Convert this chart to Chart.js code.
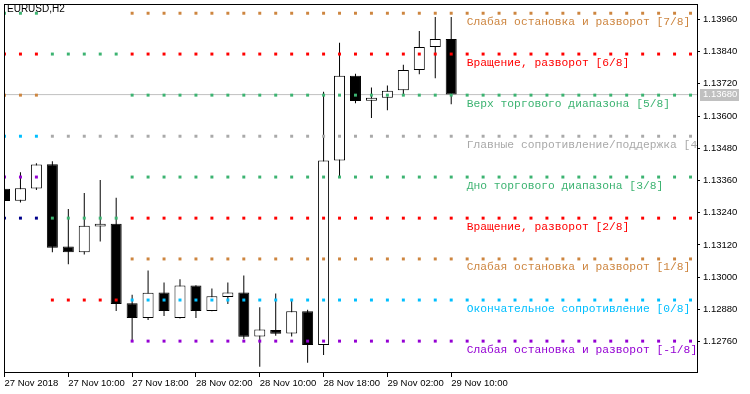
<!DOCTYPE html>
<html>
<head>
<meta charset="utf-8">
<script src="https://cdn.jsdelivr.net/npm/chart.js@4.4.0/dist/chart.umd.min.js"></script>
<style>
html, body { margin: 0; padding: 0; background: #fff; }
canvas { display: block; }
</style>
</head>
<body>
<canvas id="chart" width="750" height="394"></canvas>
<script>
// EURUSD H2 candles, bar 0 = 27 Nov 02:00
const opens  = [1.13329, 1.13285, 1.13330, 1.13421, 1.13114, 1.13093, 1.13189, 1.13199, 1.12903, 1.12848,
                1.12943, 1.12848, 1.12969, 1.12874, 1.12926, 1.12943, 1.12779, 1.12803, 1.12790, 1.12873,
                1.12748, 1.13435, 1.13750, 1.13657, 1.13668, 1.13696, 1.13772, 1.13857, 1.13887];
const highs  = [1.13336, 1.13391, 1.13424, 1.13432, 1.13254, 1.13314, 1.13362, 1.13296, 1.12935, 1.13025,
                1.12980, 1.12992, 1.12970, 1.12958, 1.12980, 1.13006, 1.12888, 1.12939, 1.12911, 1.12879,
                1.13691, 1.13873, 1.13758, 1.13706, 1.13714, 1.13791, 1.13917, 1.13969, 1.13969];
const lows   = [1.13277, 1.13278, 1.13325, 1.13093, 1.13048, 1.13085, 1.13133, 1.12874, 1.12763, 1.12841,
                1.12856, 1.12846, 1.12848, 1.12873, 1.12900, 1.12769, 1.12667, 1.12782, 1.12779, 1.12681,
                1.12710, 1.13370, 1.13648, 1.13593, 1.13622, 1.13681, 1.13756, 1.13741, 1.13644];
const closes = [1.13284, 1.13331, 1.13420, 1.13110, 1.13093, 1.13192, 1.13199, 1.12900, 1.12848, 1.12942,
                1.12874, 1.12969, 1.12874, 1.12929, 1.12943, 1.12778, 1.12805, 1.12789, 1.12873, 1.12748,
                1.13435, 1.13750, 1.13656, 1.13668, 1.13694, 1.13772, 1.13857, 1.13887, 1.13680];

const timeTickIdx = [0, 4, 8, 12, 16, 20, 24, 28];
const timeTickLabels = ['27 Nov 2018', '27 Nov 10:00', '27 Nov 18:00', '28 Nov 02:00',
                        '28 Nov 10:00', '28 Nov 18:00', '29 Nov 02:00', '29 Nov 10:00'];
const priceTicks = [1.12760, 1.12880, 1.13000, 1.13120, 1.13240, 1.13360,
                    1.13480, 1.13600, 1.13720, 1.13840, 1.13960];
const bid = 1.13680;

// current Murrey octave, -1/8 .. 7/8
const murreyLevels = [1.12762, 1.12915, 1.13068, 1.13220, 1.13373, 1.13525, 1.13678, 1.13831, 1.13983];
const murreyColors = ['#9400D3', '#00BFFF', '#CD853F', '#FF0000', '#3CB371', '#A9A9A9', '#3CB371', '#FF0000', '#CD853F'];
const murreyNames = [
  'Слабая остановка и разворот [-1/8]',
  'Окончательное сопротивление [0/8]',
  'Слабая остановка и разворот [1/8]',
  'Вращение, разворот [2/8]',
  'Дно торгового диапазона [3/8]',
  'Главные сопротивление/поддержка [4/8]',
  'Верх торгового диапазона [5/8]',
  'Вращение, разворот [6/8]',
  'Слабая остановка и разворот [7/8]'
];
// older octaves still drawn on the first bars
const oldLevelsA = [1.13220, 1.13373, 1.13525, 1.13678, 1.13831, 1.13983];
const oldColorsA = ['#00008B', '#9400D3', '#00BFFF', '#CD853F', '#FF0000', '#3CB371'];
const oldLevelsB = [1.12915, 1.13220, 1.13525, 1.13831];
const oldColorsB = ['#FF0000', '#3CB371', '#A9A9A9', '#3CB371'];

const segA = [0, 2], segB = [3, 7], segC = [8, 43];
const captionIdx = 29;

Chart.defaults.font.family = '"Liberation Sans", Arial, sans-serif';
Chart.defaults.font.size = 9.5;
Chart.defaults.color = '#000';

function dots(level, color, seg) {
  const pts = [];
  for (let i = seg[0]; i <= seg[1]; i++) pts.push({ x: i, y: level });
  return {
    type: 'scatter', data: pts, order: 0,
    pointStyle: 'rect', pointRadius: 2.1, pointBorderWidth: 0,
    backgroundColor: color, borderColor: color
  };
}

const datasets = [];
murreyLevels.forEach((v, i) => datasets.push(dots(v, murreyColors[i], segC)));
oldLevelsA.forEach((v, i) => datasets.push(dots(v, oldColorsA[i], segA)));
oldLevelsB.forEach((v, i) => datasets.push(dots(v, oldColorsB[i], segB)));

// candle bodies
datasets.push({
  type: 'bar', order: 1, grouped: false,
  data: opens.map((o, i) => ({ x: i, y: [o, closes[i]] })),
  backgroundColor: opens.map((o, i) => closes[i] >= o ? '#fff' : '#000'),
  borderColor: '#000', borderWidth: 1, borderSkipped: false,
  barThickness: 11, inflateAmount: 0
});
// wicks
datasets.push({
  type: 'bar', order: 2, grouped: false,
  data: lows.map((l, i) => ({ x: i, y: [l, highs[i]] })),
  backgroundColor: '#000', borderWidth: 0,
  barThickness: 1, inflateAmount: 0
});
// bid line
datasets.push({
  type: 'line', order: 3,
  data: [{ x: -1, y: bid }, { x: 50, y: bid }],
  borderColor: '#C0C0C0', borderWidth: 1, pointRadius: 0
});

const overlay = {
  id: 'overlay',
  afterDraw(chart) {
    const { ctx, chartArea: a, scales: { x, y } } = chart;
    ctx.save();
    ctx.beginPath();
    ctx.rect(a.left, a.top, a.right - a.left, a.bottom - a.top);
    ctx.clip();
    ctx.font = '11.3px "Liberation Mono", "Courier New", monospace';
    ctx.textAlign = 'left';
    ctx.textBaseline = 'middle';
    murreyLevels.forEach((v, i) => {
      ctx.fillStyle = murreyColors[i];
      ctx.fillText(murreyNames[i], x.getPixelForValue(captionIdx) - 0.5, y.getPixelForValue(v) + 8.5);
    });
    ctx.restore();

    ctx.save();
    ctx.setLineDash([]);
    ctx.strokeStyle = '#000';
    ctx.lineWidth = 1;
    ctx.strokeRect(a.left + 0.5, a.top + 0.5, a.right - a.left, a.bottom - a.top);
    ctx.font = '10px "Liberation Sans", Arial, sans-serif';
    ctx.fillStyle = '#000';
    ctx.textAlign = 'left';
    ctx.textBaseline = 'top';
    ctx.fillText('EURUSD,H2', 7, 4);
    // bid label on price axis
    const yb = y.getPixelForValue(bid);
    ctx.fillStyle = '#C0C0C0';
    ctx.fillRect(a.right + 3, Math.round(yb) - 6, 39, 12);
    ctx.fillStyle = '#fff';
    ctx.font = '9.5px "Liberation Sans", Arial, sans-serif';
    ctx.textBaseline = 'middle';
    ctx.fillText(bid.toFixed(5), a.right + 6, yb);
    ctx.restore();
  }
};

new Chart(document.getElementById('chart'), {
  data: { datasets },
  options: {
    responsive: false,
    animation: false,
    events: [],
    layout: { padding: { left: 2, top: 2, right: 0, bottom: 0 } },
    plugins: { legend: { display: false }, tooltip: { enabled: false } },
    scales: {
      x: {
        type: 'linear', offset: false,
        min: -0.03125, max: 43.40625,
        grid: { offset: false, drawOnChartArea: false, drawTicks: true, tickLength: 5, color: '#000' },
        border: { display: false },
        ticks: {
          align: 'start', autoSkip: false, maxRotation: 0, padding: 1,
          callback: (v, i) => timeTickLabels[i]
        },
        afterBuildTicks: s => { s.ticks = timeTickIdx.map(v => ({ value: v })); },
        afterFit: s => { s.height = 22; s.paddingLeft = 0; s.paddingRight = 0; }
      },
      y: {
        type: 'linear', position: 'right',
        min: 1.12647, max: 1.140174,
        grid: { drawOnChartArea: false, drawTicks: true, tickLength: 3, color: '#000' },
        border: { display: false },
        ticks: { padding: 3, autoSkip: false, callback: v => v.toFixed(5) },
        afterBuildTicks: s => { s.ticks = priceTicks.map(v => ({ value: v })); },
        afterFit: s => { s.width = 53; s.paddingTop = 0; s.paddingBottom = 0; }
      }
    }
  },
  plugins: [overlay]
});
</script>
</body>
</html>
